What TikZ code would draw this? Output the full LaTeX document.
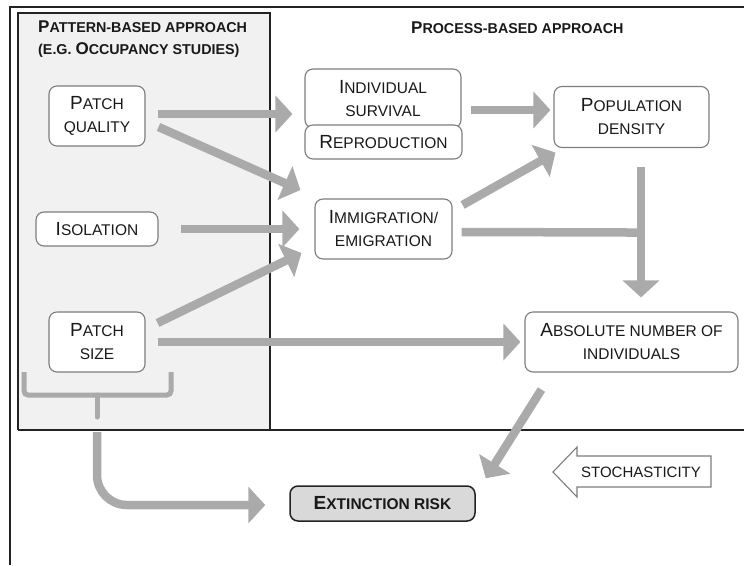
\documentclass[tikz,border=0pt]{standalone}
\usepackage{fontspec}
\setmainfont{Liberation Sans}
\usetikzlibrary{
	arrows.meta
}
\definecolor{colflow}{RGB}{170,170,170}
\definecolor{colborder}{RGB}{125,125,125}
\definecolor{colframe}{RGB}{35,35,35}
\definecolor{colshade}{RGB}{241,241,241}
\definecolor{colrisk}{RGB}{217,217,217}
\definecolor{coltext}{RGB}{25,25,25}
\newcommand{\initl}[1]{{\fontsize{19}{23}\selectfont #1}}
\newcommand{\hinitl}[1]{{\fontsize{17}{22}\selectfont #1}}
\tikzset{
	>={Triangle[length=17pt,width=36pt]},
	flow/.style={->, draw=colflow, line width=8.5pt},
	brace/.style={draw=colflow, line width=5pt, rounded corners=4pt},
	framed/.style={draw=colframe, line width=2pt},
	boxnode/.style={draw=colborder, fill=white, line width=1.1pt, rounded corners=8pt, align=center, inner sep=0pt, text=coltext, font=\fontsize{15.5}{23}\selectfont},
	risknode/.style={boxnode, draw=colframe, line width=1.5pt, fill=colrisk, font=\bfseries\fontsize{15.5}{18}\selectfont},
	headnode/.style={anchor=west, align=left, inner sep=0pt, text=coltext, font=\bfseries\fontsize{14.3}{22}\selectfont},
	stochnode/.style={inner sep=0pt, text=coltext, font=\fontsize{15}{18}\selectfont}
}
\begin{document}
\begin{tikzpicture}[x=1pt, y=-1pt]
	\useasboundingbox (0,0) rectangle (744,565);
	% frame and the shaded pattern-based part
	\fill[colshade] (17.5,13) rectangle (270,430);
	\draw[framed] (10,565) -- (10,7) -- (744,7);
	\draw[framed] (17.5,430) -- (17.5,13) -- (270,13) -- (270,430);
	\draw[framed] (17.5,430) -- (744,430);

	\node[headnode] (pathead) at (38,39) {\hinitl{P}ATTERN-BASED APPROACH\\(E.G. \hinitl{O}CCUPANCY STUDIES)};
	\node[headnode] (prochead) at (411,28) {\hinitl{P}ROCESS-BASED APPROACH};

	\node[boxnode, minimum width=96pt, minimum height=60pt] (pq) at (97,116) {\initl{P}ATCH\\QUALITY};
	\node[boxnode, minimum width=122pt, minimum height=34pt] (iso) at (97,229) {\initl{I}SOLATION};
	\node[boxnode, minimum width=96pt, minimum height=60pt] (ps) at (97,342) {\initl{P}ATCH\\SIZE};

	\node[boxnode, minimum width=156pt, minimum height=59pt] (indiv) at (383,98.5) {\initl{I}NDIVIDUAL\\SURVIVAL};
	\node[boxnode, minimum width=157pt, minimum height=34pt] (repro) at (383.5,142) {\initl{R}EPRODUCTION};
	\node[boxnode, minimum width=137pt, minimum height=60pt] (imm) at (383.5,229) {\initl{I}MMIGRATION/\\EMIGRATION};
	\node[boxnode, minimum width=155pt, minimum height=61pt] (popd) at (631.5,117) {\initl{P}OPULATION\\DENSITY};
	\node[boxnode, minimum width=213pt, minimum height=60pt] (abs) at (631.5,342) {\initl{A}BSOLUTE NUMBER OF\\INDIVIDUALS};
	\node[risknode, minimum width=185pt, minimum height=35pt] (ext) at (382.5,503.5) {\initl{E}XTINCTION RISK};

	\coordinate (join) at ([shift={(9.5,84.5)}]popd.south);
	\coordinate (brtip) at (97,417);

	% connectors
	\draw[flow] ([shift={(12,-2)}]pq.east) -- ([shift={(-12,15.5)}]indiv.west);
	\draw[flow] ([shift={(13,11)}]pq.east) -- ([shift={(-14,-39)}]imm.west);
	\draw[flow] ([shift={(22,0)}]iso.east) -- ([shift={(-15,0)}]imm.west);
	\draw[flow] ([shift={(12,-19)}]ps.east) -- ([shift={(-13,24)}]imm.west);
	\draw[flow] ([shift={(12,0)}]ps.east) -- ([shift={(-4,0)}]abs.west);
	\draw[flow] ([shift={(9,11.5)}]indiv.east) -- ([shift={(-3,-7)}]popd.west);
	\draw[flow] ([shift={(10,-24)}]imm.east) -- ([shift={(2,4.5)}]popd.south west);
	\draw[flow, -] ([shift={(9,3)}]imm.east) -- ([shift={(3.5,0)}]join);
	\draw[flow] ([shift={(9.5,18.5)}]popd.south) -- ([shift={(9.5,-14)}]abs.north);
	\draw[flow] ([shift={(17,17)}]abs.south west) -- ([shift={(10,-7)}]ext.north east);

	% brace under the pattern-based factors
	\draw[brace] (24,372) -- (24,395) -- (171,395) -- (171,372);
	\draw[brace, line cap=round] (97,395) -- (brtip);
	\draw[flow, rounded corners=30pt] ([shift={(0,15)}]brtip) |- ([shift={(-24,1.5)}]ext.west);

	% stochasticity block arrow
	\draw[draw=colborder, line width=1.1pt, fill=white] (553,472) -- (577,447) -- (577,456) -- (711,456) -- (711,487) -- (577,487) -- (577,497) -- cycle;
	\node[stochnode] (stoch) at (641,472) {STOCHASTICITY};
\end{tikzpicture}
\end{document}
